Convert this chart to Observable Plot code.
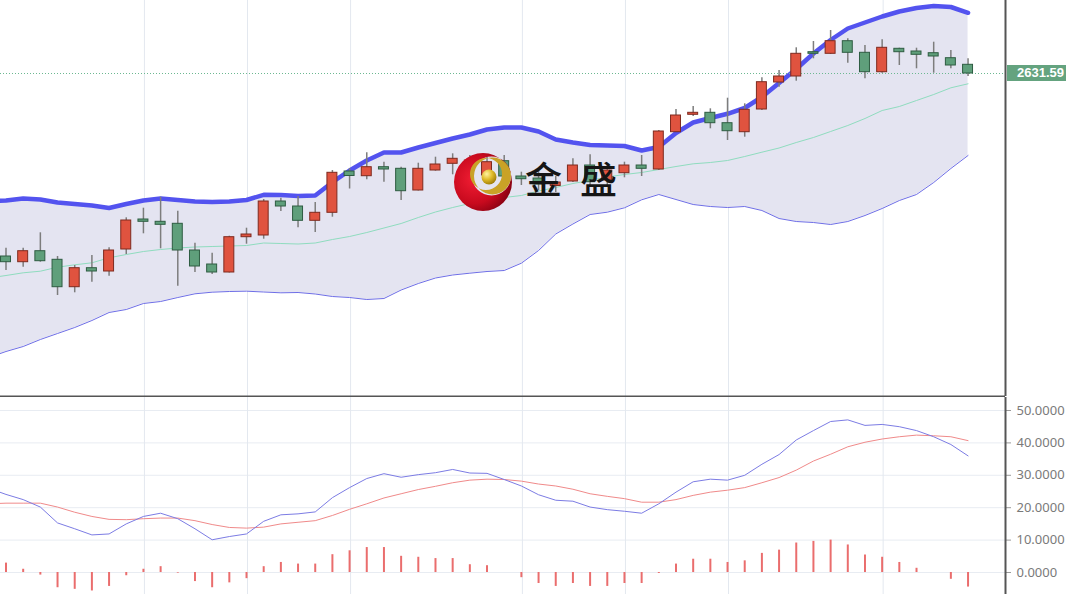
<!DOCTYPE html>
<html><head><meta charset="utf-8">
<script src="https://cdn.jsdelivr.net/npm/d3@7"></script>
<script src="https://cdn.jsdelivr.net/npm/@observablehq/plot@0.6"></script>
<style>
html,body{margin:0;padding:0;background:#fff;}
#wrap{position:relative;width:1066px;height:594px;overflow:hidden;font-family:"Liberation Sans",Arial,sans-serif;}
#wrap svg{display:block;}
#price{position:absolute;left:1007px;width:59px;height:16px;background:#64a37f;color:#fff;font:bold 13px "Liberation Sans",Arial,sans-serif;line-height:16px;padding-left:10px;box-sizing:border-box;white-space:nowrap;overflow:hidden;}
#logo{position:absolute;left:0;top:0;}
#brand{position:absolute;left:525px;top:160px;font-family:"Noto Sans CJK SC";font-weight:500;font-size:37px;line-height:1;letter-spacing:18px;color:#151515;white-space:nowrap;}
</style></head><body><div id="wrap"></div>
<script>
// ---- candles (index 0..56) ----
const open  = [2540.09,2537.24,2542.74,2538.44,2524.74,2534.24,2532.59,2543.59,2558.59,2557.44,2556.44,2543.09,2536.09,2532.09,2549.74,2550.59,2567.59,2565.09,2557.94,2561.94,2582.59,2580.24,2584.74,2583.94,2573.09,2583.09,2586.44,2585.09,2580.59,2587.74,2580.09,2579.09,2575.34,2577.59,2585.59,2578.09,2581.74,2585.59,2583.59,2602.24,2610.94,2611.94,2606.74,2602.24,2613.59,2627.09,2630.09,2642.24,2641.44,2647.74,2641.94,2632.24,2643.94,2642.59,2641.74,2639.24,2635.94];
const high  = [2544.24,2544.24,2551.94,2540.09,2535.59,2540.59,2544.44,2559.44,2564.24,2569.74,2562.74,2546.74,2541.74,2550.24,2554.24,2568.59,2569.24,2570.09,2567.09,2583.09,2583.94,2591.94,2587.24,2584.74,2586.74,2589.74,2591.44,2590.59,2590.59,2590.59,2582.24,2584.09,2580.09,2588.94,2590.94,2585.59,2587.24,2590.59,2603.09,2613.59,2615.09,2613.94,2619.24,2616.44,2629.44,2633.09,2644.44,2647.59,2653.09,2648.94,2645.59,2648.44,2644.24,2644.24,2647.24,2643.09,2638.94];
const low   = [2533.09,2534.74,2537.24,2520.59,2521.94,2527.24,2530.24,2541.09,2551.44,2543.94,2525.24,2532.09,2531.09,2531.84,2546.24,2548.74,2562.59,2554.44,2552.09,2559.74,2573.84,2578.44,2577.24,2568.09,2572.84,2582.74,2580.94,2583.09,2579.59,2577.09,2575.59,2573.09,2572.09,2577.09,2575.59,2575.09,2579.44,2580.09,2583.09,2602.09,2610.09,2603.94,2598.09,2599.74,2613.09,2624.74,2627.74,2638.94,2641.09,2636.74,2628.94,2631.74,2635.59,2633.94,2631.74,2633.94,2630.09];
const close = [2537.24,2542.74,2537.74,2524.74,2534.24,2532.59,2543.09,2558.09,2557.44,2555.94,2543.09,2535.09,2532.09,2549.74,2551.09,2567.59,2565.09,2557.94,2561.94,2581.94,2580.34,2584.74,2583.59,2572.74,2583.94,2586.09,2588.94,2588.09,2587.24,2580.09,2578.74,2576.09,2577.09,2585.59,2577.24,2583.09,2585.59,2583.94,2602.59,2610.59,2611.94,2606.74,2602.74,2613.44,2627.24,2630.09,2641.44,2641.44,2647.74,2641.94,2632.24,2644.44,2642.24,2640.94,2640.09,2635.59,2631.59];

// ---- Bollinger bands (index -1..56) ----
const upper  = [2567.59,2568.09,2569.09,2568.59,2567.09,2566.34,2565.59,2564.34,2566.34,2568.09,2569.09,2568.34,2567.59,2567.34,2567.59,2568.34,2570.94,2570.84,2570.34,2570.59,2577.24,2583.09,2588.09,2592.09,2592.09,2594.59,2596.84,2599.09,2601.09,2603.59,2604.59,2604.59,2602.59,2598.59,2597.09,2595.84,2595.59,2595.34,2593.09,2594.84,2601.84,2607.09,2609.34,2611.44,2614.34,2619.84,2626.84,2633.84,2641.59,2648.34,2654.09,2657.09,2660.09,2662.59,2664.34,2665.34,2664.84,2661.94];
const middle = [2529.34,2530.59,2531.94,2532.74,2534.74,2535.94,2536.94,2539.44,2541.09,2542.59,2543.59,2544.34,2544.84,2545.09,2545.34,2545.59,2546.84,2546.59,2546.34,2546.84,2548.59,2550.09,2552.09,2554.34,2556.59,2559.59,2562.34,2564.59,2566.59,2568.09,2569.59,2570.59,2572.84,2574.59,2576.59,2578.09,2579.84,2581.09,2582.09,2583.59,2585.09,2586.44,2587.09,2588.09,2590.09,2592.24,2594.34,2597.09,2599.59,2602.59,2605.59,2609.09,2613.09,2615.09,2618.09,2621.09,2624.44,2626.44];
const lower  = [2489.59,2492.59,2495.09,2498.59,2501.59,2504.59,2508.09,2512.09,2513.59,2516.59,2517.59,2519.59,2521.44,2522.24,2522.59,2522.74,2522.34,2521.94,2522.09,2521.34,2520.09,2519.59,2518.59,2519.09,2523.34,2526.59,2529.34,2530.84,2531.74,2532.59,2533.09,2536.74,2543.09,2551.34,2556.34,2561.09,2562.24,2564.44,2568.44,2571.09,2568.59,2566.09,2565.09,2564.59,2565.09,2563.09,2559.09,2557.59,2557.09,2556.09,2557.59,2560.59,2564.09,2568.09,2571.09,2577.09,2584.09,2590.59];

// ---- MACD (lines: index -1..56, histogram: 0..56) ----
const dif  = [26.0,24.1,22.5,20.2,15.3,13.5,11.6,11.9,15.0,17.3,18.3,16.6,13.5,10.1,11.1,11.9,15.8,17.8,18.1,18.7,23.1,26.2,29.0,30.5,29.4,30.2,30.8,31.8,30.7,30.6,28.7,26.7,24.0,22.3,22.0,20.2,19.4,18.9,18.3,21.2,24.8,28.0,28.8,28.5,30.0,33.4,36.4,40.9,43.8,46.6,47.1,45.4,45.7,45.0,43.8,41.9,39.5,36.0];
const dea  = [21.2,21.4,21.4,21.4,20.2,18.6,17.3,16.4,16.3,16.6,16.8,16.8,16.0,14.8,13.9,13.7,14.0,15.0,15.5,16.0,17.6,19.5,21.2,23.0,24.3,25.6,26.6,27.7,28.5,28.8,28.7,28.2,27.3,26.7,25.7,24.3,23.5,22.8,21.7,21.7,22.5,23.8,24.8,25.4,26.2,27.7,29.3,31.6,34.4,36.5,38.8,40.2,41.2,41.9,42.4,42.2,41.9,40.7];
const hist = [2.9,1.0,-0.8,-4.7,-5.2,-5.7,-4.3,-1.0,1.0,1.8,-0.2,-2.8,-4.7,-3.2,-1.9,1.8,3.1,2.6,2.6,5.5,6.7,7.7,7.7,5.0,4.7,4.3,4.3,2.4,2.1,0,-1.6,-3.4,-4.3,-3.4,-4.3,-4.3,-3.4,-3.4,-0.3,2.6,4.1,4.1,3.1,3.6,5.9,6.9,9.1,9.6,10.0,8.5,5.4,4.7,3.1,1.3,0,-2.1,-4.5];

const gridIdx = [8, 14, 20, 30, 36, 42, 51];
const macdTicks = [0, 10, 20, 30, 40, 50];
const brandText = "金盛";

// ---- derived tables ----
const candles = open.map((o, i) => ({i, o, h: high[i], l: low[i], c: close[i], up: close[i] >= o}));
const bands = upper.map((u, k) => ({i: k - 1, upper: u, middle: middle[k], lower: lower[k]}));
const macd = dif.map((d, k) => ({i: k - 1, dif: d, dea: dea[k]}));
const bars = hist.map((v, i) => ({i, v}));
const lastClose = close[close.length - 1];

const xDomain = [-0.32, 58.18];
const priceDomain = [2470.09, 2668.09];
const macdDomain = [-6.79, 54.01];

const topPlot = Plot.plot({
  width: 1066, height: 397,
  marginLeft: 0, marginRight: 61, marginTop: 0, marginBottom: 1,
  x: {type: "linear", domain: xDomain, axis: null},
  y: {type: "linear", domain: priceDomain, axis: null},
  marks: [
    Plot.ruleX(gridIdx, {x: d => d, dx: 1, stroke: "#e3e8ef", strokeWidth: 1}),
    Plot.areaY(bands, {x: "i", y1: "lower", y2: "upper", fill: "#e4e4f1"}),
    Plot.line(bands, {x: "i", y: "middle", stroke: "#8fdcbf", strokeWidth: 1}),
    Plot.line(bands, {x: "i", y: "lower", stroke: "#6e6ee6", strokeWidth: 1}),
    Plot.line(bands, {x: "i", y: "upper", stroke: "#5353ef", strokeWidth: 4.5}),
    Plot.ruleY([lastClose], {stroke: "#6cb891", strokeWidth: 1, strokeDasharray: "1,2"}),
    Plot.ruleX(candles, {x: "i", y1: "l", y2: "h", stroke: "#7d7d7d", strokeWidth: 1.5}),
    Plot.rect(candles, {
      x1: d => d.i - 0.29, x2: d => d.i + 0.29,
      y1: d => Math.min(d.o, d.c), y2: d => Math.max(d.o, d.c),
      fill: d => d.up ? "#e0533f" : "#5f9f7b",
      stroke: d => d.up ? "#7e2a1f" : "#2e5c42", strokeWidth: 1
    }),
    Plot.ruleY([priceDomain[0]], {stroke: "#555", strokeWidth: 2}),
    Plot.ruleX([xDomain[1]], {stroke: "#555", strokeWidth: 2})
  ]
});

const bottomPlot = Plot.plot({
  width: 1066, height: 197,
  marginLeft: 0, marginRight: 61, marginTop: 0, marginBottom: 0,
  x: {type: "linear", domain: xDomain, axis: null},
  y: {type: "linear", domain: macdDomain},
  marks: [
    Plot.gridY(macdTicks, {stroke: "#e8ecf2", strokeOpacity: 1}),
    Plot.ruleX(gridIdx, {x: d => d, dx: 1, stroke: "#e3e8ef", strokeWidth: 1}),
    Plot.axisY(macdTicks, {anchor: "right", tickSize: 5, tickPadding: 6, fontSize: 13, fill: "#7a7a7a", stroke: "#999", tickFormat: d => d.toFixed(4)}),
    Plot.ruleX(bars, {x: "i", y1: 0, y2: "v", stroke: "#ea6d6d", strokeWidth: 2}),
    Plot.line(macd, {x: "i", y: "dea", stroke: "#f08a8a", strokeWidth: 1}),
    Plot.line(macd, {x: "i", y: "dif", stroke: "#7c7ce4", strokeWidth: 1}),
    Plot.ruleX([xDomain[1]], {stroke: "#555", strokeWidth: 2})
  ]
});

const wrap = document.getElementById("wrap");
wrap.appendChild(topPlot);
wrap.appendChild(bottomPlot);

// last price tag positioned from the price scale
const yTop = topPlot.scale("y");
const tag = document.createElement("div");
tag.id = "price";
tag.textContent = lastClose.toFixed(2);
tag.style.top = (yTop.apply(lastClose) - 8) + "px";
wrap.appendChild(tag);

// watermark logo
const ns = "http://www.w3.org/2000/svg";
const logo = document.createElementNS(ns, "svg");
logo.setAttribute("id", "logo");
logo.setAttribute("width", "1066");
logo.setAttribute("height", "594");
logo.innerHTML = `
<defs>
 <radialGradient id="rg" cx="0.35" cy="0.45" r="0.7">
  <stop offset="0" stop-color="#f21d33"/><stop offset="0.6" stop-color="#c80a1e"/><stop offset="1" stop-color="#7d0010"/>
 </radialGradient>
 <radialGradient id="gg" cx="0.35" cy="0.3" r="0.75">
  <stop offset="0" stop-color="#fff3a0"/><stop offset="0.5" stop-color="#e0bb2a"/><stop offset="1" stop-color="#9c7a08"/>
 </radialGradient>
</defs>
<path fill="url(#rg)" fill-rule="evenodd" d="M454,182a29,29 0 1,0 58,0a29,29 0 1,0 -58,0Z M472,176a19.5,19.5 0 1,0 39,0a19.5,19.5 0 1,0 -39,0Z"/>
<path fill="#c9a227" fill-rule="evenodd" d="M474,176a18.5,18.5 0 1,0 37,0a18.5,18.5 0 1,0 -37,0Z M470,174a16,16 0 1,0 32,0a16,16 0 1,0 -32,0Z"/>
<circle cx="489" cy="177" r="7.5" fill="url(#gg)"/>`;
wrap.appendChild(logo);

const brand = document.createElement("div");
brand.id = "brand";
brand.textContent = brandText;
wrap.appendChild(brand);
</script>
</body></html>
